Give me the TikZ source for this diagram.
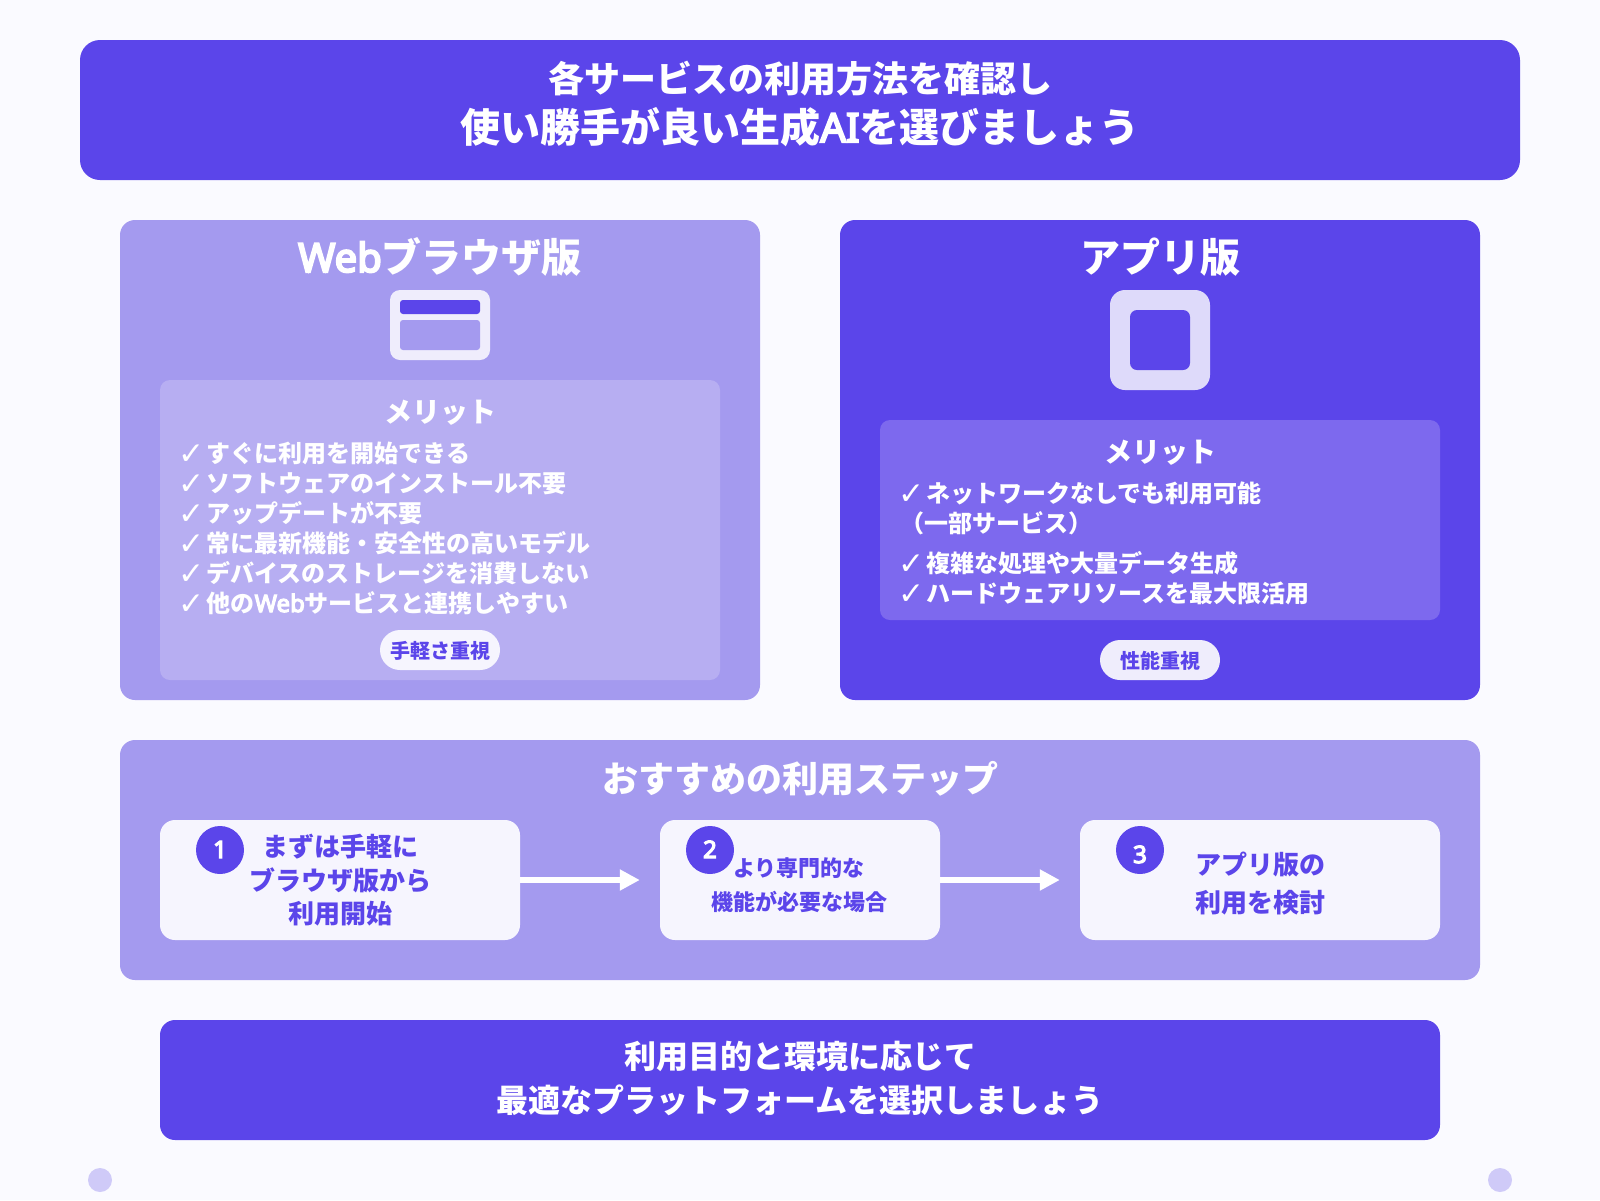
\documentclass[tikz,border=0pt]{standalone}
\usepackage{fontspec}
\setmainfont{Noto Sans CJK JP}
\newfontfamily\latinfont{Noto Sans}[FakeBold=5]
\newfontfamily\checkfont{DejaVu Sans}[Scale=1.3]
\usetikzlibrary{arrows.meta}

\definecolor{brand}{HTML}{5B45EA}
\definecolor{brandsoft}{HTML}{A49AEF}
\definecolor{websoft}{HTML}{B7AEF2}
\definecolor{appsoft}{HTML}{7D69EE}
\definecolor{cardwhite}{HTML}{F6F5FE}
\definecolor{iconwhite}{HTML}{EFEDFC}
\definecolor{iconlilac}{HTML}{DEDAFA}
\definecolor{dotlilac}{HTML}{CFCAF8}
\definecolor{pagebg}{HTML}{FAFAFF}

\newcommand{\tick}{\makebox[26.5pt][l]{\hspace{-2pt}\raisebox{-2pt}{\mdseries\checkfont ✓}}}

\tikzset{
  box/.style={rectangle, inner sep=0pt, rounded corners=#1},
  box/.default=15pt,
  txt/.style={inner sep=0pt, anchor=base, text=white, font=\bfseries\fontsize{#1}{#1}\selectfont},
  item/.style={txt=24, anchor=base west},
  badge/.style={box=20pt, minimum width=120pt, minimum height=40pt},
  stepcard/.style={box=15pt, fill=cardwhite, minimum height=120pt},
  stepnum/.style={circle, inner sep=0pt, fill=brand, minimum size=48pt},
  flow/.style={draw=white, line width=6pt, shorten >=20pt, -{Triangle[length=20pt, width=20pt]}}
}

\begin{document}
\begin{tikzpicture}[x=1pt, y=-1pt]
  \fill[pagebg] (0,0) rectangle (1600,1200);
  \useasboundingbox (0,0) rectangle (1600,1200);

  % header
  \node[box=20pt, fill=brand, minimum width=1440pt, minimum height=140pt] (head) at (800,110) {};
  \node[txt=36] (headone) at (800,92) {各サービスの利用方法を確認し};
  \node[txt=40] (headtwo) at (800,142) {使い勝手が良い生成{\mdseries\latinfont AI}を選びましょう};

  % web version
  \node[box, fill=brandsoft, minimum width=640pt, minimum height=480pt] (webpanel) at (440,460) {};
  \node[txt=40] (webtitle) at (440,272) {{\mdseries\latinfont Web}ブラウザ版};
  \node[box=10pt, fill=iconwhite, minimum width=100pt, minimum height=70pt] (webicon) at (440,325) {};
  \node[box=3pt, fill=brand, minimum width=80pt, minimum height=14pt] (webbar) at (440,307) {};
  \node[box=3pt, fill=brandsoft, minimum width=80pt, minimum height=30pt] (webview) at (440,335) {};
  \node[box=10pt, fill=websoft, minimum width=560pt, minimum height=300pt] (webmerit) at (440,530) {};
  \node[txt=28] (webhead) at (440,422) {メリット};
  \foreach \txtline [count=\i] in {すぐに利用を開始できる, ソフトウェアのインストール不要, アップデートが不要,
      常に最新機能・安全性の高いモデル, デバイスのストレージを消費しない, 他の{\mdseries\latinfont Web}サービスと連携しやすい}
    \node[item] (webitem\i) at (180,{432+30*\i}) {\tick\txtline};
  \node[badge, fill=cardwhite] (webbadge) at (440,650) {};
  \node[txt=20, text=brand] (webbadgetxt) at (440,658) {手軽さ重視};

  % app version
  \node[box, fill=brand, minimum width=640pt, minimum height=480pt] (apppanel) at (1160,460) {};
  \node[txt=40] (apptitle) at (1160,272) {アプリ版};
  \node[box=15pt, fill=iconlilac, minimum width=100pt, minimum height=100pt] (appicon) at (1160,340) {};
  \node[box=7pt, fill=brand, minimum width=60pt, minimum height=60pt] (appscreen) at (1160,340) {};
  \node[box=10pt, fill=appsoft, minimum width=560pt, minimum height=200pt] (appmerit) at (1160,520) {};
  \node[txt=28] (apphead) at (1160,462) {メリット};
  \node[item] (appitema) at (900,502) {\tick ネットワークなしでも利用可能};
  \node[item] (appitemb) at (900,532) {（一部サービス）};
  \node[item] (appitemc) at (900,572) {\tick 複雑な処理や大量データ生成};
  \node[item] (appitemd) at (900,602) {\tick ハードウェアリソースを最大限活用};
  \node[badge, fill=iconwhite] (appbadge) at (1160,660) {};
  \node[txt=20, text=brand] (appbadgetxt) at (1160,668) {性能重視};

  % steps
  \node[box, fill=brandsoft, minimum width=1360pt, minimum height=240pt] (steppanel) at (800,860) {};
  \node[txt=36] (steptitle) at (800,792) {おすすめの利用ステップ};
  \node[stepcard, minimum width=360pt] (stepa) at (340,880) {};
  \node[stepcard, minimum width=280pt] (stepb) at (800,880) {};
  \node[stepcard, minimum width=360pt] (stepc) at (1260,880) {};
  \draw[flow] (stepa) -- (stepb);
  \draw[flow] (stepb) -- (stepc);
  \node[stepnum] (numa) at (220,850) {};
  \node[stepnum] (numb) at (710,850) {};
  \node[stepnum] (numc) at (1140,850) {};
  \node[txt=24] (numatxt) at (220,858) {\mdseries\latinfont 1};
  \node[txt=24] (numbtxt) at (710,858) {\mdseries\latinfont 2};
  \node[txt=24] (numctxt) at (1140,863) {\mdseries\latinfont 3};
  \node[txt=26, text=brand] (stepaone) at (340,856) {まずは手軽に};
  \node[txt=26, text=brand] (stepatwo) at (340,890) {ブラウザ版から};
  \node[txt=26, text=brand] (stepathree) at (340,923) {利用開始};
  \node[txt=22, text=brand] (stepbone) at (799,876) {より専門的な};
  \node[txt=22, text=brand] (stepbtwo) at (799,910) {機能が必要な場合};
  \node[txt=26, text=brand] (stepcone) at (1260,874) {アプリ版の};
  \node[txt=26, text=brand] (stepctwo) at (1260,912) {利用を検討};

  % closing note
  \node[box, fill=brand, minimum width=1280pt, minimum height=120pt] (note) at (800,1080) {};
  \node[txt=32] (noteone) at (800,1068) {利用目的と環境に応じて};
  \node[txt=32] (notetwo) at (800,1112) {最適なプラットフォームを選択しましょう};

  \node[circle, fill=dotlilac, inner sep=0pt, minimum size=24pt] (dotl) at (100,1180) {};
  \node[circle, fill=dotlilac, inner sep=0pt, minimum size=24pt] (dotr) at (1500,1180) {};
\end{tikzpicture}
\end{document}
